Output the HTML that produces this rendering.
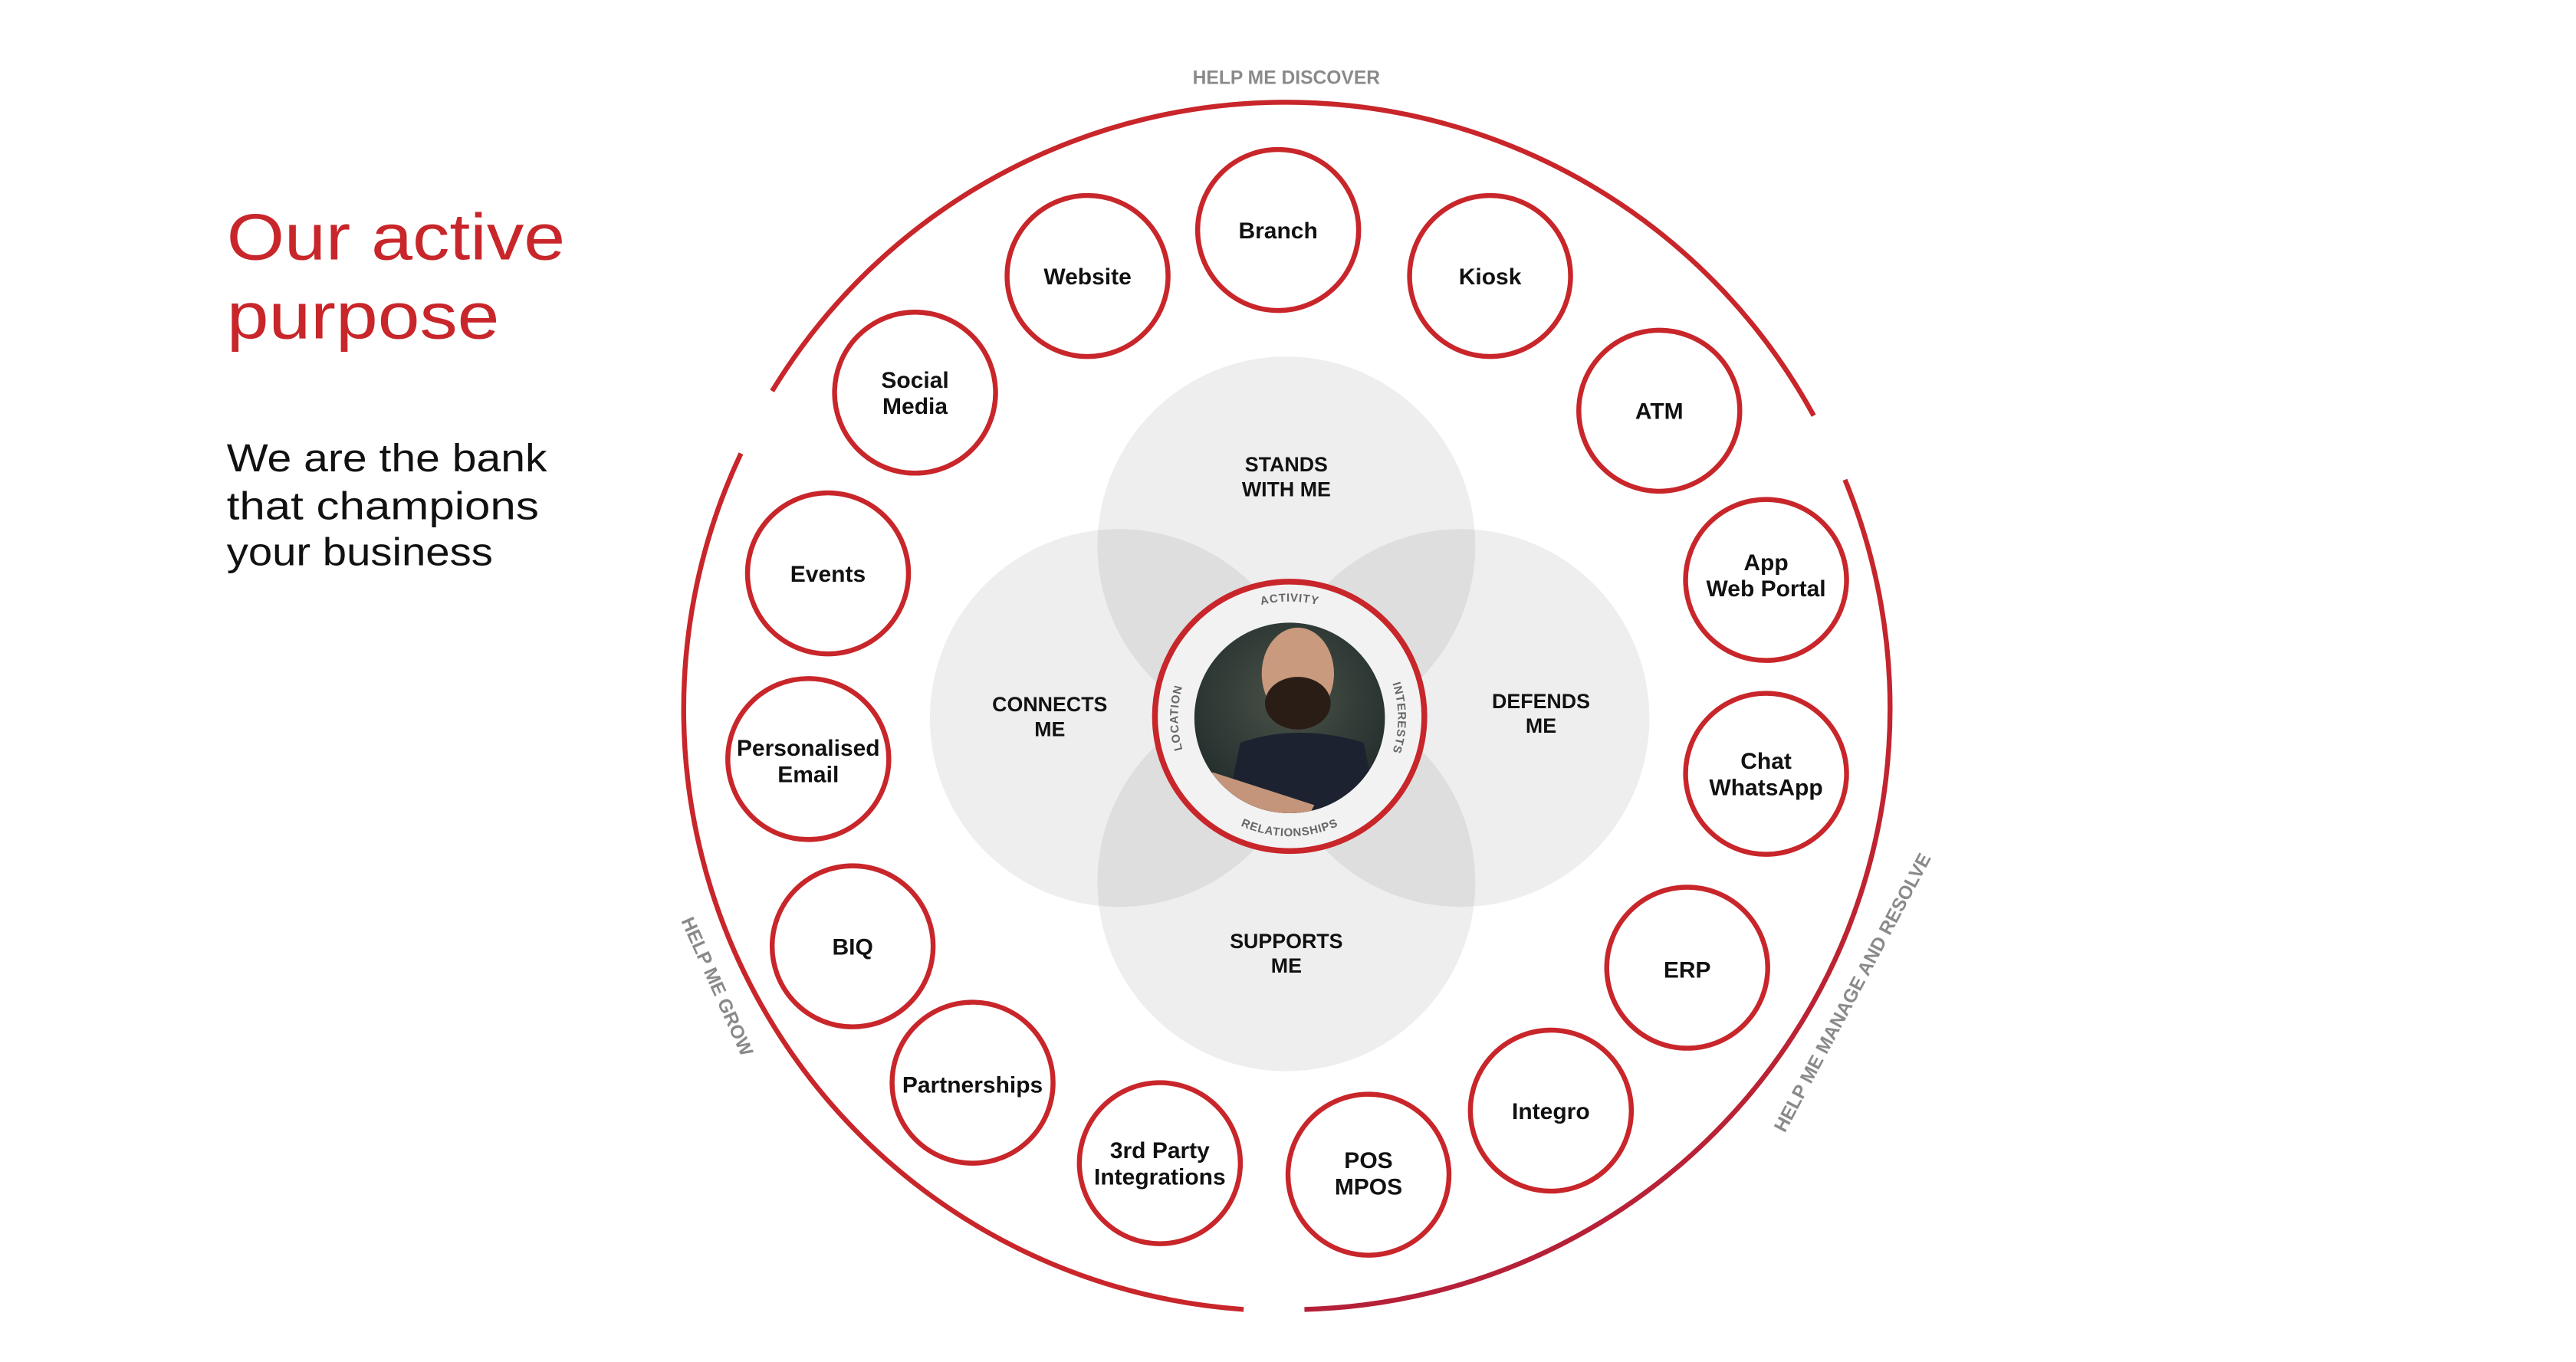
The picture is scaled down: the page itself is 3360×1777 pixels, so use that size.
<!DOCTYPE html>
<html><head><meta charset="utf-8"><style>
html,body{margin:0;padding:0;background:#fff;}
svg{display:block;}
text{font-family:"Liberation Sans",sans-serif;}
</style></head><body>
<svg width="3360" height="1777" viewBox="0 0 1568 829" preserveAspectRatio="none" xmlns="http://www.w3.org/2000/svg">
<defs>
<linearGradient id="rg" x1="0" y1="0" x2="0" y2="1">
<stop offset="0" stop-color="#c8262a"/><stop offset="1" stop-color="#b52038"/></linearGradient>
<radialGradient id="bg" cx="0.5" cy="0.4" r="0.6"><stop offset="0" stop-color="#4a5248"/><stop offset="1" stop-color="#1f2a2a"/></radialGradient>
<clipPath id="pc"><circle cx="785" cy="437" r="58"/></clipPath>
<path id="pT" d="M714,437 A71,71 0 0 1 856,437"/>
<path id="pB" d="M713,437 A72,72 0 0 0 857,437"/>
<path id="pL" d="M785,505 A68,68 0 0 1 785,369"/>
<path id="pR" d="M785,371 A66,66 0 0 1 785,503"/>
</defs>

<text x="138" y="158" font-size="40" fill="#c8262a" textLength="206" lengthAdjust="spacingAndGlyphs">Our active</text>
<text x="138" y="206" font-size="40" fill="#c8262a" textLength="166" lengthAdjust="spacingAndGlyphs">purpose</text>
<text x="138" y="287" font-size="24" fill="#111" textLength="195" lengthAdjust="spacingAndGlyphs">We are the bank</text>
<text x="138" y="316" font-size="24" fill="#111" textLength="190" lengthAdjust="spacingAndGlyphs">that champions</text>
<text x="138" y="344" font-size="24" fill="#111" textLength="162" lengthAdjust="spacingAndGlyphs">your business</text>

<text x="783" y="51" font-size="11.5" font-weight="bold" fill="#8a8a8a" text-anchor="middle">HELP ME DISCOVER</text>
<text transform="translate(433,602) rotate(66)" font-size="11.5" font-weight="bold" fill="#8a8a8a" text-anchor="middle">HELP ME GROW</text>
<text transform="translate(1131,606) rotate(-62)" font-size="11.5" font-weight="bold" fill="#8a8a8a" text-anchor="middle">HELP ME MANAGE AND RESOLVE</text>

<g fill="none" stroke-width="3">
<path d="M470,238 A366,366 0 0 1 1104,253" stroke="#c8262a"/>
<path d="M451,276 A366,366 0 0 0 757,797" stroke="#c8262a"/>
<path d="M1123,292 A366,366 0 0 1 794,797" stroke="url(#rg)"/>
</g>

<g fill="#000" fill-opacity="0.065">
<circle cx="783" cy="332" r="115"/>
<circle cx="681" cy="437" r="115"/>
<circle cx="889" cy="437" r="115"/>
<circle cx="783" cy="537" r="115"/>
</g>
<g font-size="12.5" font-weight="bold" fill="#111" text-anchor="middle">
<text x="783" y="287">STANDS</text><text x="783" y="302">WITH ME</text>
<text x="639" y="433">CONNECTS</text><text x="639" y="448">ME</text>
<text x="938" y="431">DEFENDS</text><text x="938" y="446">ME</text>
<text x="783" y="577">SUPPORTS</text><text x="783" y="592">ME</text>
</g>

<circle cx="785" cy="436" r="82" fill="#f2f2f2" stroke="#c8262a" stroke-width="3.5"/>
<g clip-path="url(#pc)">
<rect x="720" y="375" width="130" height="125" fill="url(#bg)"/>
<ellipse cx="790" cy="410" rx="22" ry="28" fill="#c99a7e"/>
<ellipse cx="790" cy="428" rx="20" ry="16" fill="#2a1d16"/>
<path d="M745,500 L755,452 Q790,440 830,452 L840,500 Z" fill="#1c2230"/>
<path d="M738,470 L800,490 L795,500 L735,485 Z" fill="#c4957a"/>
</g>
<g font-size="7" font-weight="bold" fill="#666" letter-spacing="0.4">
<text><textPath href="#pT" startOffset="50%" text-anchor="middle">ACTIVITY</textPath></text>
<text><textPath href="#pB" startOffset="50%" text-anchor="middle">RELATIONSHIPS</textPath></text>
<text><textPath href="#pL" startOffset="50%" text-anchor="middle">LOCATION</textPath></text>
<text><textPath href="#pR" startOffset="50%" text-anchor="middle">INTERESTS</textPath></text>
</g>

<g fill="#fff" stroke="#c8262a" stroke-width="3">
<circle cx="778" cy="140" r="49"/>
<circle cx="662" cy="168" r="49"/>
<circle cx="907" cy="168" r="49"/>
<circle cx="557" cy="239" r="49"/>
<circle cx="1010" cy="250" r="49"/>
<circle cx="504" cy="349" r="49"/>
<circle cx="1075" cy="353" r="49"/>
<circle cx="492" cy="462" r="49"/>
<circle cx="1075" cy="471" r="49"/>
<circle cx="519" cy="576" r="49"/>
<circle cx="1027" cy="589" r="49"/>
<circle cx="592" cy="659" r="49"/>
<circle cx="944" cy="676" r="49"/>
<circle cx="706" cy="708" r="49"/>
<circle cx="833" cy="715" r="49"/>
</g>
<g font-size="14" font-weight="bold" fill="#111" text-anchor="middle">
<text x="778" y="145">Branch</text>
<text x="662" y="173">Website</text>
<text x="907" y="173">Kiosk</text>
<text x="557" y="236">Social</text><text x="557" y="252">Media</text>
<text x="1010" y="255">ATM</text>
<text x="504" y="354">Events</text>
<text x="1075" y="347">App</text><text x="1075" y="363">Web Portal</text>
<text x="492" y="460">Personalised</text><text x="492" y="476">Email</text>
<text x="1075" y="468">Chat</text><text x="1075" y="484">WhatsApp</text>
<text x="519" y="581">BIQ</text>
<text x="1027" y="595">ERP</text>
<text x="592" y="665">Partnerships</text>
<text x="944" y="681">Integro</text>
<text x="706" y="705">3rd Party</text><text x="706" y="721">Integrations</text>
<text x="833" y="711">POS</text><text x="833" y="727">MPOS</text>
</g>
</svg>
</body></html>
